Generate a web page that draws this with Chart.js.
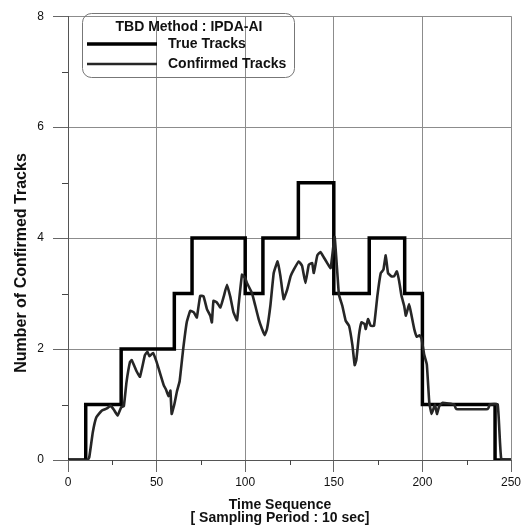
<!DOCTYPE html>
<html>
<head>
<meta charset="utf-8">
<script src="https://cdn.jsdelivr.net/npm/chart.js@4.4.1/dist/chart.umd.min.js"></script>
<style>
html,body{margin:0;padding:0;background:#fff;}
#wrap{width:531px;height:532px;position:relative;}
</style>
</head>
<body>
<div id="wrap"><canvas id="c" width="531" height="532"></canvas></div>
<script>
// ---- data ----
const legendTitle = "TBD Method : IPDA-AI";
const xTitleLines = ["Time Sequence", "[ Sampling Period : 10 sec]"];
const yTitle = "Number of Confirmed Tracks";
const seriesNames = ["True Tracks", "Confirmed Tracks"];

const xTicks = [0, 50, 100, 150, 200, 250];
const yTicks = [0, 2, 4, 6, 8];
const xMinorTicks = [25, 75, 125, 175, 225];
const yMinorTicks = [1, 3, 5, 7];

const trueTime  = [0, 10, 30, 60, 70, 100, 110, 130, 150, 170, 190, 200, 241, 250];
const trueCount = [0, 1, 2, 3, 4, 3, 4, 5, 3, 4, 3, 1, 0, 0];

const confTime = [0, 11, 12, 14, 16, 19, 22, 24, 26, 28, 30, 31.5, 33, 35, 36, 38.7, 40.6, 43.4, 44.8, 46, 48, 50, 51.6, 54, 55.3, 56.7, 57.8, 58.5, 60, 61.5, 63, 65, 67, 69, 71, 72.7, 74.6, 76.5, 78.4, 80.3, 81.2, 82.1, 84, 86, 88, 89.7, 91.6, 93.4, 95.4, 96.3, 98.2, 100, 101, 103.8, 105.7, 107.6, 109.5, 111, 112.3, 114.2, 116.1, 118.3, 119.9, 121.7, 123.7, 125.6, 127.4, 130.2, 132.1, 134, 135.9, 137.8, 138.7, 140.7, 142.5, 144.4, 146.3, 148.2, 149.7, 150.5, 152, 152.9, 154.8, 156.7, 158.6, 160.5, 161.8, 162.7, 164.2, 165.6, 167.4, 168, 169.3, 170.8, 172.7, 174.6, 176.5, 178, 179.3, 180.6, 182.5, 184, 185.6, 186.9, 188.2, 189.7, 190.7, 192.5, 193.9, 195.4, 196.9, 198.4, 199.5, 201, 202.5, 203.9, 205.2, 207.1, 208.2, 209.5, 211.4, 218, 219, 237, 238, 242.5, 244.5, 250];
const confCount = [0, 0, 0.05, 0.5, 0.77, 0.89, 0.93, 0.98, 0.9, 0.8, 0.95, 0.97, 1.4, 1.77, 1.8, 1.6, 1.5, 1.89, 1.95, 1.87, 1.93, 1.77, 1.6, 1.35, 1.27, 1.15, 1.25, 0.83, 1.0, 1.24, 1.42, 2.0, 2.48, 2.69, 2.66, 2.57, 2.96, 2.95, 2.72, 2.6, 2.48, 2.87, 2.84, 2.75, 2.96, 3.16, 2.94, 2.66, 2.52, 2.8, 3.34, 3.28, 3.19, 3.01, 2.78, 2.54, 2.36, 2.25, 2.36, 2.78, 3.37, 3.58, 3.31, 2.9, 3.07, 3.31, 3.43, 3.58, 3.5, 3.19, 3.52, 3.55, 3.37, 3.69, 3.75, 3.65, 3.55, 3.46, 3.84, 4.02, 3.37, 2.98, 2.78, 2.51, 2.42, 2.07, 1.71, 1.8, 2.25, 2.48, 2.45, 2.36, 2.54, 2.42, 2.42, 2.96, 3.37, 3.43, 3.69, 3.37, 3.31, 3.31, 3.4, 3.22, 2.96, 2.78, 2.6, 2.81, 2.6, 2.36, 2.22, 2.25, 2.19, 1.9, 1.72, 1.03, 0.83, 1.0, 0.83, 0.97, 1.03, 1.0, 0.92, 0.92, 1.0, 1.0, 0.02, 0];

// ---- build ----
const FONT = '"Liberation Sans", Arial, sans-serif';
const pts = (xs, ys) => xs.map((v, i) => ({x: v, y: ys[i]}));

const decor = {
  id: 'decor',
  afterDraw(chart) {
    const {ctx, scales: {x, y}} = chart;
    ctx.save();
    // minor ticks
    ctx.strokeStyle = '#444';
    ctx.lineWidth = 1;
    xMinorTicks.forEach(v => {
      const px = Math.round(x.getPixelForValue(v)) + 0.5;
      ctx.beginPath(); ctx.moveTo(px, y.bottom); ctx.lineTo(px, y.bottom + 5); ctx.stroke();
    });
    yMinorTicks.forEach(v => {
      const py = Math.round(y.getPixelForValue(v)) + 0.5;
      ctx.beginPath(); ctx.moveTo(x.left - 6, py); ctx.lineTo(x.left, py); ctx.stroke();
    });
    // axis titles
    ctx.fillStyle = '#111';
    ctx.font = 'bold 14px ' + FONT;
    ctx.textAlign = 'center';
    ctx.textBaseline = 'middle';
    ctx.fillText(xTitleLines[0], 280, 505);
    ctx.fillText(xTitleLines[1], 280, 518);
    ctx.save();
    ctx.translate(22, 263);
    ctx.rotate(-Math.PI / 2);
    ctx.font = 'bold 16px ' + FONT;
    ctx.fillText(yTitle, 0, 0);
    ctx.restore();
    // legend box
    ctx.strokeStyle = '#777';
    ctx.lineWidth = 1;
    ctx.beginPath();
    ctx.roundRect(82.5, 13.5, 212, 64, 9);
    ctx.stroke();
    ctx.fillStyle = '#111';
    ctx.font = 'bold 14px ' + FONT;
    ctx.textAlign = 'center';
    ctx.fillText(legendTitle, 189, 27);
    const ds = chart.data.datasets;
    const rowsY = [44, 64];
    ds.forEach((d, i) => {
      ctx.strokeStyle = d.borderColor;
      ctx.lineWidth = d.borderWidth;
      ctx.beginPath(); ctx.moveTo(87, rowsY[i]); ctx.lineTo(157, rowsY[i]); ctx.stroke();
      ctx.fillStyle = '#111';
      ctx.textAlign = 'left';
      ctx.fillText(d.label, 168, rowsY[i] + 0.5);
    });
    ctx.restore();
  }
};

new Chart(document.getElementById('c'), {
  type: 'line',
  data: {
    datasets: [
      {label: seriesNames[0], data: pts(trueTime, trueCount), stepped: true,
       borderColor: '#000', borderWidth: 3.5, pointRadius: 0, fill: false, order: 2},
      {label: seriesNames[1], data: pts(confTime, confCount), tension: 0.1,
       borderColor: '#262626', borderWidth: 2.6, pointRadius: 0, fill: false, order: 1}
    ]
  },
  options: {
    responsive: false,
    animation: false,
    devicePixelRatio: 1,
    layout: {padding: {top: 9, right: 20, left: 0, bottom: 0}},
    plugins: {legend: {display: false}, tooltip: {enabled: false}},
    scales: {
      x: {
        type: 'linear', min: 0, max: 250,
        afterBuildTicks: s => { s.ticks = xTicks.map(v => ({value: v})); },
        afterFit: s => { s.height = 72; },
        ticks: {font: {family: FONT, size: 12}, color: '#111', padding: 3, maxRotation: 0, autoSkip: false},
        grid: {color: '#8c8c8c', lineWidth: 1, tickLength: 12, tickColor: '#666'},
        border: {color: '#555', width: 1}
      },
      y: {
        type: 'linear', min: 0, max: 8,
        afterBuildTicks: s => { s.ticks = yTicks.map(v => ({value: v})); },
        afterFit: s => { s.width = 68; },
        ticks: {font: {family: FONT, size: 12}, color: '#111', padding: 9},
        grid: {color: '#8c8c8c', lineWidth: 1, tickLength: 15, tickColor: '#666'},
        border: {color: '#555', width: 1}
      }
    }
  },
  plugins: [decor]
});
</script>
</body>
</html>
